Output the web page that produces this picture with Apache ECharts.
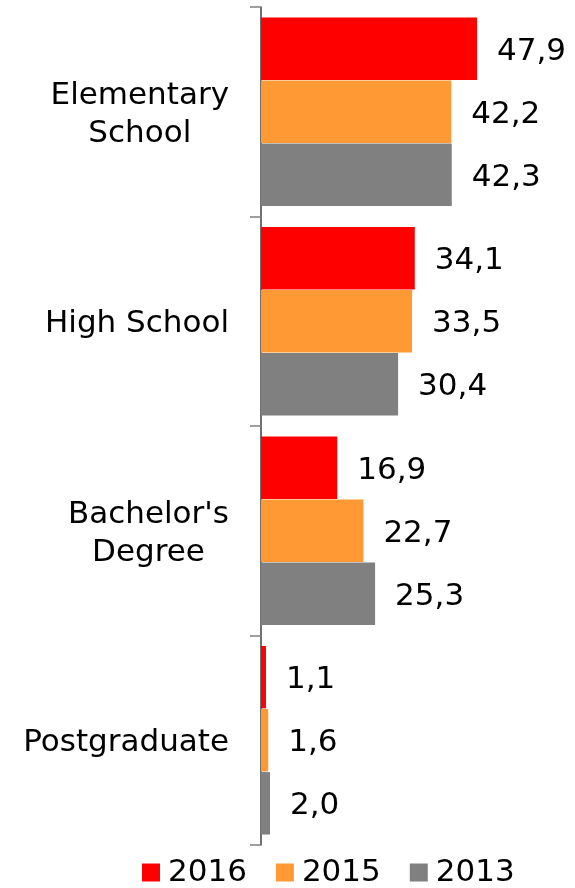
<!DOCTYPE html>
<html lang="en">
<head>
    <meta charset="UTF-8">
    <title>Education level</title>
    <script src="https://cdn.jsdelivr.net/npm/echarts@6/dist/echarts.min.js"></script>
    <style>
        html,body{margin:0;padding:0;background:#fff;}
        #chart{width:575px;height:888px;}
    </style>
</head>
<body>
<div id="chart"></div>
<script>
    var categories = ['Elementary School', 'High School', "Bachelor's Degree", 'Postgraduate'];
    var years = ['2016', '2015', '2013'];
    var values2016 = [47.9, 34.1, 16.9, 1.1];
    var values2015 = [42.2, 33.5, 22.7, 1.6];
    var values2013 = [42.3, 30.4, 25.3, 2.0];
    var colors = ['#ff0000', '#ff9933', '#808080'];

    // two-line names, lines centred on each other
    var labelLines = {
        'Elementary School': ['Elementary', 'School'],
        "Bachelor's Degree": ["Bachelor's", 'Degree']
    };

    var font = 'DejaVu Sans, Verdana, sans-serif';

    function makeSeries(name, data, color){
        return {
            name: name,
            type: 'bar',
            data: data,
            barGap: '1%',
            barCategoryGap: '10%',
            itemStyle: {color: color},
            label: {
                show: true,
                position: 'right',
                distance: 20,
                offset: [0, 3],
                fontFamily: font,
                fontSize: 31,
                color: '#000',
                formatter: function(p){ return p.value.toFixed(1).replace('.', ','); }
            }
        };
    }

    var myChart = echarts.init(document.getElementById('chart'));
    var option = {
        animation: false,
        grid: {left: 261, right: 43.4, top: 7, bottom: 43, containLabel: false},
        legend: {
            left: 142,
            top: 857,
            padding: 0,
            icon: 'rect',
            itemWidth: 18,
            itemHeight: 18,
            itemGap: 29,
            textStyle: {fontFamily: font, fontSize: 31, color: '#000', padding: [0, 0, 0, 3]},
            data: years
        },
        xAxis: {
            type: 'value',
            min: 0,
            max: 60,
            show: false
        },
        yAxis: {
            type: 'category',
            inverse: true,
            data: categories,
            axisLine: {show: true, lineStyle: {color: '#404040', width: 1.5}},
            axisTick: {show: true, length: 11, lineStyle: {color: '#808080', width: 1.5}},
            axisLabel: {
                margin: 32,
                padding: [6, 0, 0, 0],
                fontFamily: font,
                fontSize: 31,
                color: '#000',
                lineHeight: 38,
                formatter: function(v){
                    var lines = labelLines[v] || [v];
                    return lines.map(function(l){ return '{c|' + l + '}'; }).join('\n');
                },
                rich: {
                    c: {align: 'center', fontFamily: font, fontSize: 31, color: '#000', lineHeight: 38}
                }
            }
        },
        series: [
            makeSeries(years[0], values2016, colors[0]),
            makeSeries(years[1], values2015, colors[1]),
            makeSeries(years[2], values2013, colors[2])
        ]
    };
    myChart.setOption(option);
</script>
</body>
</html>
